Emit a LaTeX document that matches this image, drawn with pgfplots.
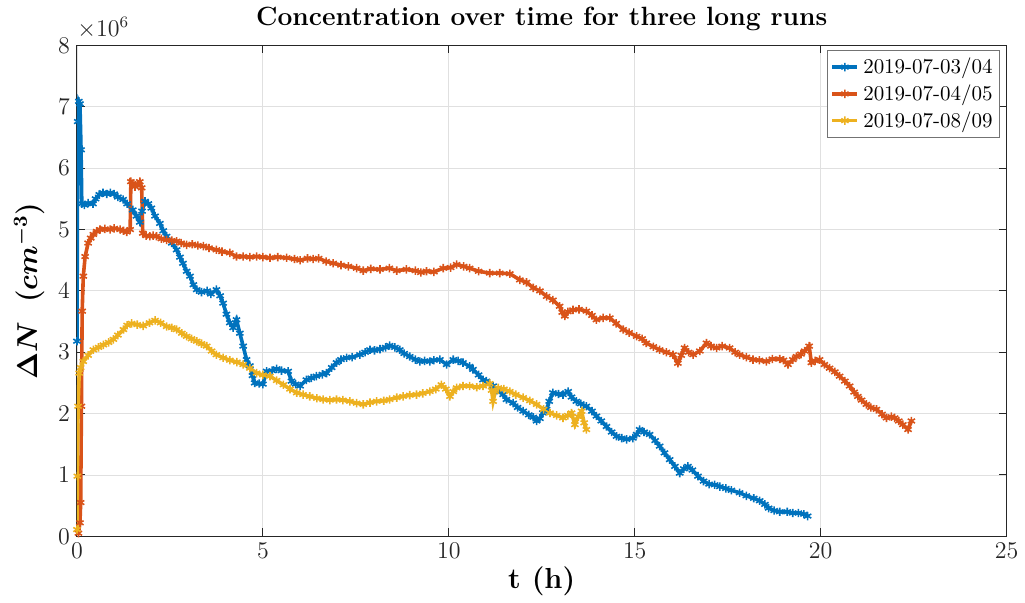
\documentclass[border=0pt]{standalone}
\usepackage{pgfplots}
\pgfplotsset{compat=1.18}
\usepackage{bm}
\definecolor{mblue}{rgb}{0,0.447,0.741}
\definecolor{morange}{rgb}{0.85,0.325,0.098}
\definecolor{myellow}{rgb}{0.929,0.694,0.125}
\definecolor{axgray}{rgb}{0.15,0.15,0.15}
\pgfplotsset{
  mystyle/.style={line width=1.8pt, mark=asterisk, mark size=2.1pt, mark options={line width=0.8pt}},
  short legend/.style={legend image code/.code={\draw[mark repeat=2,mark phase=2,##1] plot coordinates {(0cm,0cm) (0.22cm,0cm) (0.44cm,0cm)};}},
}
\begin{document}
\begin{tikzpicture}
\path (-38.5pt,-32.75pt) rectangle (474pt,266.75pt);
\begin{axis}[
  scale only axis, width=465pt, height=245.5pt,
  xmin=0, xmax=25, ymin=0, ymax=8,
  xtick={0,5,10,15,20,25}, ytick={0,1,2,3,4,5,6,7,8},
  grid=major, major grid style={color=black!12, line width=0.4pt},
  axis line style={color=axgray, line width=0.5pt},
  tick style={color=axgray, line width=0.5pt},
  tick align=inside, major tick length=4pt,
  tick label style={color=axgray, font=\fontsize{11.5}{13}\selectfont},
  title={\textbf{Concentration over time for three long runs}},
  title style={font=\fontsize{13.2}{15}\selectfont, yshift=-2pt},
  xlabel={\textbf{t (h)}},
  xlabel style={font=\fontsize{14.5}{16}\selectfont, yshift=3pt},
  ylabel={$\bm{\Delta N}\ \ \bm{(cm^{-3})}$},
  ylabel style={font=\fontsize{14.5}{16}\selectfont, yshift=0pt},
  legend style={at={(0.993,0.99)}, anchor=north east, draw=black!55, fill=white,
    font=\fontsize{10.5}{12}\selectfont, inner sep=1.5pt},
  legend cell align=left, short legend,
]
\addplot[mystyle, color=mblue] coordinates {
(0,3.18) (0.02,6.76) (0.05,7.09) (0.08,7.05) (0.11,6.30) (0.13,5.42) (0.2,5.40) (0.3,5.43) (0.43,5.42)
(0.5,5.50) (0.6,5.57) (0.7,5.60) (0.8,5.58) (0.9,5.60) (1.0,5.58) (1.1,5.53) (1.24,5.49) (1.35,5.42)
(1.5,5.32) (1.6,5.22) (1.69,5.12) (1.75,5.30) (1.83,5.46) (1.92,5.42) (2.0,5.35) (2.1,5.22) (2.23,5.10)
(2.32,4.98) (2.41,4.89) (2.55,4.78) (2.68,4.67) (2.77,4.55) (2.85,4.45) (2.95,4.32) (3.04,4.24) (3.13,4.10)
(3.22,4.02) (3.35,3.98) (3.5,4.00) (3.6,3.95) (3.75,4.02) (3.85,3.92) (3.93,3.80) (4.02,3.62) (4.11,3.48)
(4.2,3.40) (4.29,3.53) (4.38,3.31) (4.47,3.10) (4.56,2.88) (4.65,2.78) (4.72,2.62) (4.78,2.50) (4.9,2.49)
(5.0,2.48) (5.1,2.69) (5.25,2.70) (5.37,2.73) (5.5,2.70) (5.68,2.69) (5.77,2.53) (5.88,2.48) (6.0,2.45)
(6.17,2.55) (6.3,2.58) (6.44,2.61) (6.6,2.64) (6.71,2.66) (6.85,2.75) (6.98,2.83) (7.1,2.88) (7.25,2.91)
(7.4,2.92) (7.61,2.96) (7.75,3.00) (7.88,3.04) (8.0,3.03) (8.15,3.05) (8.3,3.08) (8.41,3.11) (8.55,3.08)
(8.68,3.04) (8.8,2.98) (8.95,2.93) (9.1,2.88) (9.22,2.85) (9.35,2.86) (9.49,2.85) (9.6,2.87) (9.76,2.88)
(9.94,2.80) (10.12,2.88) (10.25,2.86) (10.38,2.83) (10.56,2.77) (10.65,2.72) (10.8,2.63) (10.92,2.55)
(11.01,2.53) (11.19,2.45) (11.3,2.38) (11.46,2.31) (11.55,2.23) (11.73,2.17) (11.85,2.10) (12.0,2.04)
(12.15,1.98) (12.27,1.94) (12.36,1.88) (12.45,1.92) (12.53,2.01) (12.63,2.07) (12.7,2.20) (12.80,2.34)
(12.95,2.32) (13.07,2.31) (13.21,2.36) (13.3,2.27) (13.43,2.20) (13.55,2.16) (13.70,2.12) (13.85,2.04)
(13.97,1.96) (14.1,1.88) (14.24,1.79) (14.38,1.70) (14.51,1.63) (14.65,1.60) (14.78,1.58) (14.95,1.60)
(15.05,1.66) (15.13,1.74) (15.25,1.70) (15.40,1.66) (15.55,1.56) (15.67,1.47) (15.8,1.36) (15.94,1.25)
(16.08,1.14) (16.21,1.03) (16.32,1.10) (16.43,1.14) (16.55,1.08) (16.7,0.98) (16.85,0.90) (17.0,0.85)
(17.15,0.84) (17.29,0.81) (17.45,0.78) (17.6,0.75) (17.82,0.71) (18.0,0.66) (18.2,0.62) (18.36,0.58)
(18.5,0.52) (18.6,0.46) (18.75,0.42) (18.9,0.40) (19.1,0.40) (19.25,0.38) (19.4,0.38) (19.55,0.36) (19.65,0.33)
};
\addlegendentry{2019-07-03/04}
\addplot[mystyle, color=morange] coordinates {
(0.04,0.05) (0.08,0.22) (0.10,0.55) (0.12,2.12) (0.14,3.67) (0.17,4.24) (0.22,4.56) (0.30,4.78) (0.37,4.86)
(0.44,4.92) (0.53,4.97) (0.62,5.00) (0.75,5.01) (0.89,5.00) (1.0,5.02) (1.16,5.00) (1.25,4.98) (1.34,4.96)
(1.43,5.00) (1.45,5.78) (1.5,5.75) (1.56,5.70) (1.63,5.74) (1.69,5.78) (1.74,5.68) (1.77,4.94) (1.86,4.90)
(1.96,4.89) (2.05,4.90) (2.14,4.89) (2.27,4.85) (2.41,4.83) (2.55,4.82) (2.68,4.81) (2.8,4.78) (2.95,4.75)
(3.1,4.76) (3.25,4.74) (3.40,4.73) (3.55,4.70) (3.75,4.67) (3.9,4.64) (4.11,4.62) (4.29,4.56) (4.47,4.56)
(4.65,4.55) (4.83,4.56) (5.0,4.55) (5.19,4.54) (5.4,4.55) (5.64,4.54) (5.85,4.52) (6.0,4.50) (6.2,4.53)
(6.35,4.52) (6.5,4.53) (6.7,4.48) (6.89,4.45) (7.1,4.42) (7.3,4.40) (7.52,4.37) (7.7,4.33) (7.9,4.36)
(8.15,4.35) (8.4,4.37) (8.6,4.33) (8.86,4.35) (9.1,4.33) (9.25,4.30) (9.40,4.32) (9.6,4.31) (9.85,4.37)
(10.05,4.38) (10.21,4.43) (10.4,4.40) (10.56,4.37) (10.8,4.32) (11.10,4.29) (11.37,4.29) (11.64,4.28)
(11.91,4.18) (12.09,4.14) (12.27,4.05) (12.45,4.0) (12.63,3.91) (12.8,3.85) (12.98,3.75) (13.05,3.65)
(13.12,3.59) (13.2,3.66) (13.34,3.69) (13.5,3.70) (13.70,3.67) (13.85,3.60) (13.97,3.53) (14.15,3.56)
(14.33,3.56) (14.5,3.47) (14.69,3.37) (14.85,3.32) (15.05,3.26) (15.2,3.22) (15.31,3.15) (15.5,3.09)
(15.67,3.04) (15.85,3.00) (16.03,2.96) (16.16,2.82) (16.25,2.95) (16.34,3.07) (16.45,3.00) (16.57,2.96)
(16.75,3.02) (16.93,3.15) (17.05,3.10) (17.20,3.07) (17.35,3.10) (17.55,3.07) (17.7,3.00) (17.82,2.96)
(18.0,2.92) (18.18,2.88) (18.35,2.87) (18.54,2.85) (18.7,2.89) (18.90,2.89) (19.0,2.87) (19.12,2.80)
(19.25,2.88) (19.35,2.93) (19.47,2.97) (19.57,3.02) (19.69,3.10) (19.75,2.83) (19.85,2.86) (19.97,2.88)
(20.1,2.80) (20.24,2.74) (20.38,2.68) (20.51,2.61) (20.65,2.53) (20.78,2.45) (20.9,2.35) (21.0,2.28)
(21.1,2.22) (21.23,2.15) (21.35,2.10) (21.5,2.07) (21.65,1.99) (21.77,1.93) (21.9,1.95) (21.99,1.93)
(22.1,1.88) (22.21,1.82) (22.35,1.74) (22.44,1.88)
};
\addlegendentry{2019-07-04/05}
\addplot[mystyle, color=myellow] coordinates {
(0.0,0.11) (0.01,0.98) (0.03,2.12) (0.06,2.66) (0.1,2.75) (0.17,2.85) (0.3,2.95) (0.44,3.04) (0.58,3.08)
(0.71,3.12) (0.85,3.16) (0.98,3.21) (1.1,3.28) (1.25,3.37) (1.35,3.44) (1.47,3.47) (1.62,3.45) (1.78,3.43)
(1.95,3.48) (2.10,3.52) (2.25,3.48) (2.41,3.42) (2.55,3.40) (2.68,3.37) (2.82,3.31) (2.95,3.26) (3.08,3.22)
(3.22,3.18) (3.35,3.14) (3.49,3.10) (3.62,3.02) (3.75,2.96) (3.93,2.91) (4.11,2.87) (4.3,2.84) (4.47,2.80)
(4.65,2.74) (4.83,2.66) (5.0,2.63) (5.19,2.61) (5.37,2.54) (5.55,2.47) (5.73,2.40) (5.91,2.34) (6.08,2.31)
(6.26,2.28) (6.45,2.25) (6.62,2.23) (6.8,2.22) (6.98,2.23) (7.15,2.22) (7.34,2.20) (7.52,2.17) (7.70,2.15)
(7.88,2.18) (8.06,2.20) (8.25,2.21) (8.41,2.23) (8.6,2.26) (8.77,2.28) (8.95,2.30) (9.13,2.31) (9.3,2.33)
(9.49,2.36) (9.65,2.40) (9.80,2.47) (9.92,2.40) (10.03,2.28) (10.12,2.36) (10.21,2.42) (10.38,2.45)
(10.56,2.45) (10.75,2.43) (10.92,2.45) (11.10,2.49) (11.15,2.38) (11.19,2.20) (11.25,2.36) (11.33,2.42)
(11.48,2.40) (11.64,2.36) (11.8,2.31) (12.0,2.26) (12.18,2.21) (12.36,2.15) (12.55,2.07) (12.72,2.01)
(12.9,1.97) (13.07,1.93) (13.2,1.97) (13.30,2.01) (13.39,1.82) (13.48,1.95) (13.57,2.04) (13.64,1.85) (13.70,1.74)
};
\addlegendentry{2019-07-08/09}
\end{axis}
\node[anchor=south west, inner sep=0pt, color=axgray, font=\fontsize{11.5}{13}\selectfont] at (0pt,249pt) {$\times10^{6}$};
\end{tikzpicture}
\end{document}
